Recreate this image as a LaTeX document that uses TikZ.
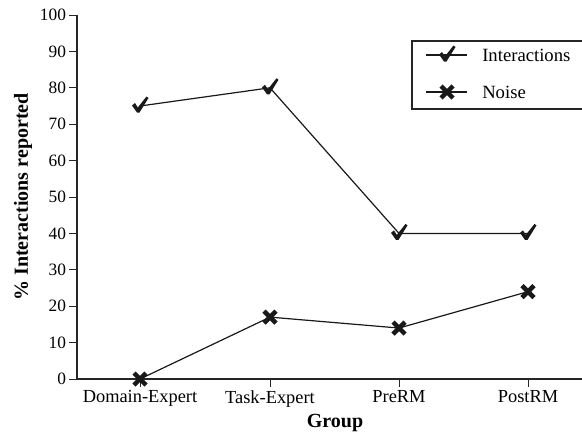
\documentclass[tikz,border=0pt]{standalone}
\usepackage{fontspec}
\setmainfont{Liberation Serif}
\begin{document}
\begin{tikzpicture}[x=0.75pt,y=-0.75pt,
  axis/.style={line width=1.1pt,draw=black!85},
  tick/.style={line width=0.6pt,draw=black!85},
  series/.style={line width=0.9pt,draw=black!90},
  ticklab/.style={font=\fontsize{13}{14}\selectfont,anchor=east,inner sep=0pt},
  grplab/.style={font=\fontsize{13.8}{15}\selectfont,anchor=north,inner sep=0pt},
  chk/.pic={\fill[black!90] (-8,-0.5) -- (-5,-3) -- (-2.2,1.5) -- (6.5,-9.5) -- (8.5,-8) -- (-0.5,6.5) -- (-3,6.5) -- cycle;},
  crs/.pic={\draw[line width=3.4pt,black!90] (-6,-6) -- (6,6) (-6,6) -- (6,-6);}
]
\useasboundingbox (0,0) rectangle (582,436);
% axes
\coordinate (o) at (77,379);
\coordinate (top) at (77,15);
\coordinate (xr) at (582,379);
\draw[axis] (top) -- (o) -- (xr);
% y ticks
\foreach \v in {0,10,...,100}{
  \coordinate (yt\v) at (77,{379-3.64*\v});
  \draw[tick] (yt\v) -- ++(-8,0) node[ticklab,xshift=-2pt] {\v};
}
% x ticks
\foreach \n/\x/\lab in {d/140/Domain-Expert,t/270/Task-Expert,p/399/PreRM,q/528/PostRM}{
  \coordinate (xt\n) at (\x,379);
  \draw[tick] (xt\n) -- ++(0,8);
  \node[grplab] (lab\n) at (\x,390) {\lab};
}
\node[font=\bfseries\fontsize{15}{16}\selectfont] (xl) at (335,423) {Group};
\node[font=\bfseries\fontsize{15}{16}\selectfont,rotate=90] (yl) at (23,197) {\% Interactions reported};
% data
\coordinate (i1) at (140,{379-3.64*75});
\coordinate (i2) at (270,{379-3.64*80});
\coordinate (i3) at (399,{379-3.64*40});
\coordinate (i4) at (528,{379-3.64*40});
\coordinate (n1) at (140,{379-3.64*0});
\coordinate (n2) at (270,{379-3.64*17});
\coordinate (n3) at (399,{379-3.64*14});
\coordinate (n4) at (528,{379-3.64*24});
\draw[series] (i1) -- (i2) -- (i3) -- (i4);
\draw[series] (n1) -- (n2) -- (n3) -- (n4);
\foreach \p in {i1,i2,i3,i4} \pic at (\p) {chk};
\foreach \p in {n1,n2,n3,n4} \pic at (\p) {crs};
% legend
\draw[line width=0.9pt,black!85] (584,41) -- (412,41) -- (412,109) -- (584,109);
\coordinate (la1) at (426,55); \coordinate (lb1) at (467,55);
\coordinate (la2) at (426,92); \coordinate (lb2) at (467,92);
\draw[series] (la1) -- (lb1);
\draw[series] (la2) -- (lb2);
\pic at (447,55) {chk};
\pic at (447,92) {crs};
\node[anchor=west,inner sep=0pt,font=\fontsize{14}{15}\selectfont] (lt1) at (482,55) {Interactions};
\node[anchor=west,inner sep=0pt,font=\fontsize{14}{15}\selectfont] (lt2) at (482,92) {Noise};
\end{tikzpicture}
\end{document}
